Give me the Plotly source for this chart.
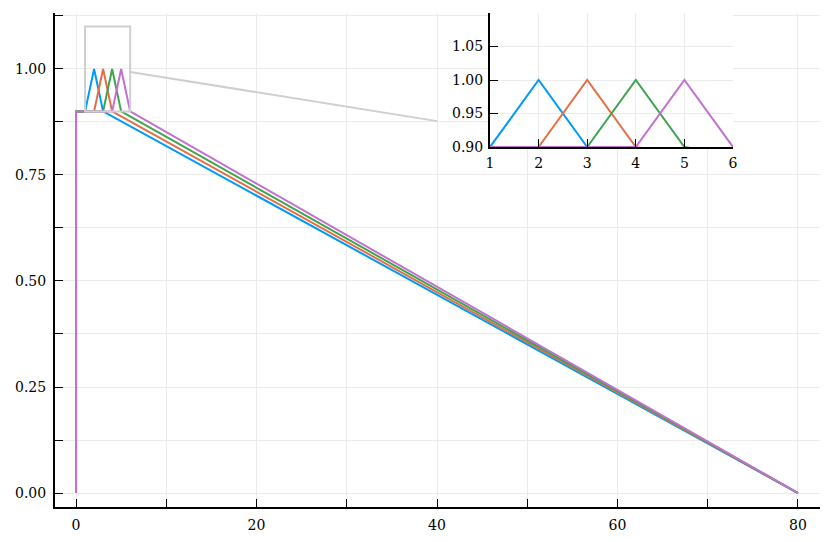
import plotly.graph_objects as go

# data: each series is a piecewise path (x, y)
series_names = ["y1", "y2", "y3", "y4"]
series_x = [
    [0, 0, 1, 2, 3, 80],
    [0, 0, 2, 3, 4, 80],
    [0, 0, 3, 4, 5, 80],
    [0, 0, 4, 5, 6, 80],
]
series_y = [
    [0, 0.9, 0.9, 1.0, 0.9, 0.0],
    [0, 0.9, 0.9, 1.0, 0.9, 0.0],
    [0, 0.9, 0.9, 1.0, 0.9, 0.0],
    [0, 0.9, 0.9, 1.0, 0.9, 0.0],
]
colors = ["#009AFA", "#E36F47", "#3EA44E", "#C271D2"]

main_xticks = [0, 20, 40, 60, 80]
main_yticks = [0.0, 0.25, 0.5, 0.75, 1.0]
inset_xticks = [1, 2, 3, 4, 5, 6]
inset_yticks = [0.90, 0.95, 1.00, 1.05]

lens_box = dict(x0=1, x1=6, y0=0.9, y1=1.1)
lens_link = dict(x0=6, y0=0.993, x1=40, y1=0.877)

FONT = "DejaVu Serif"
GRID = "#ebebeb"

fig = go.Figure()
for i in range(4):
    fig.add_trace(go.Scatter(x=series_x[i], y=series_y[i], mode="lines",
                             line=dict(color=colors[i], width=2),
                             xaxis="x", yaxis="y", showlegend=False))
for i in range(4):
    fig.add_trace(go.Scatter(x=series_x[i], y=series_y[i], mode="lines",
                             line=dict(color=colors[i], width=2),
                             xaxis="x2", yaxis="y2", showlegend=False,
                             cliponaxis=True))

W, H = 830, 542
ml, mr, mt, mb = 55, 10, 13, 35
pw, ph = W - ml - mr, H - mt - mb

def px_to_dom_x(p):
    return (p - ml) / pw

def px_to_dom_y(p):
    return (H - mb - p) / ph

common_axis = dict(showline=True, linecolor="black", linewidth=2,
                   ticks="inside", tickcolor="black", ticklen=8, tickwidth=1,
                   gridcolor=GRID, gridwidth=1, zeroline=False, mirror=False,
                   automargin=False,
                   tickfont=dict(family=FONT, size=14, color="black"))

fig.update_layout(
    width=W, height=H,
    margin=dict(l=ml, r=mr, t=mt, b=mb, autoexpand=False),
    paper_bgcolor="white", plot_bgcolor="white",
    font=dict(family=FONT, size=14, color="black"),
    xaxis=dict(range=[-2.33, 82.44], tickvals=main_xticks,
               ticktext=[str(v) for v in main_xticks],
               minor=dict(dtick=10, tick0=0, ticks="inside", ticklen=8,
                          tickcolor="black", showgrid=True, gridcolor=GRID),
               ticklabelstandoff=4,
               **common_axis),
    yaxis=dict(range=[-0.033, 1.132], tickvals=main_yticks,
               ticktext=[f"{v:.2f}" for v in main_yticks],
               minor=dict(dtick=0.125, tick0=0, ticks="inside", ticklen=8,
                          tickcolor="black", showgrid=True, gridcolor=GRID),
               ticklabelstandoff=4,
               **common_axis),
    xaxis2=dict(domain=[px_to_dom_x(490), px_to_dom_x(733)], anchor="y2",
                range=[1, 6], tickvals=inset_xticks,
                ticktext=[str(v) for v in inset_xticks],
                ticklabelstandoff=2,
                **common_axis),
    yaxis2=dict(domain=[px_to_dom_y(147), 1.0], anchor="x2",
                range=[0.9, 1.1], tickvals=inset_yticks,
                ticktext=[f"{v:.2f}" for v in inset_yticks],
                ticklabelstandoff=2,
                **common_axis),
)

# white background for the inset plot area (covers main grid lines)
fig.add_shape(type="rect", xref="x2 domain", yref="y2 domain",
              x0=0, x1=1, y0=0, y1=1, layer="below",
              fillcolor="white", line=dict(width=0))
# lens box and link line in main axes
fig.add_shape(type="rect", xref="x", yref="y", layer="above",
              line=dict(color="#cfcfcf", width=2), **lens_box)
fig.add_shape(type="line", xref="x", yref="y", layer="above",
              line=dict(color="#cfcfcf", width=2), **lens_link)

fig.write_html("out.html", config={"displayModeBar": False},
               post_script="document.body.style.margin='0';document.body.style.overflow='hidden';")
